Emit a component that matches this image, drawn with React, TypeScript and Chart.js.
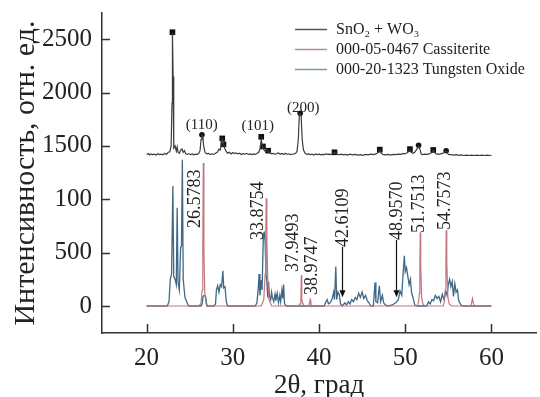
import React, { useEffect, useRef } from "react";
import { Chart, registerables } from "chart.js";

Chart.register(...registerables);

const SERIF = "'Liberation Serif', 'Times New Roman', serif";

// ---- axes ----
const xTickValues = [20, 30, 40, 50, 60];
const yTickValues = [0, 500, 1000, 1500, 2000, 2500];
const yTickLabels = ["0", "500", "100", "1500", "2000", "2500"];

// ---- series labels ----
const seriesNames = ["SnO₂ + WO₃", "000-05-0467 Cassiterite", "000-20-1323 Tungsten Oxide"];

// ---- experimental pattern SnO2 + WO3 (offset trace) ----
const experimental: [number, number][] = [
  [20.0, 1420], [20.2, 1428], [20.35, 1415], [20.5, 1425], [20.7, 1418], [20.9, 1422], [21.1, 1414],
  [21.3, 1426], [21.5, 1418], [21.7, 1422], [21.9, 1416], [22.1, 1430], [22.3, 1420], [22.5, 1440],
  [22.7, 1445], [22.85, 1500], [22.95, 1900], [23.0, 2560], [23.08, 2150], [23.15, 1480], [23.3, 1500],
  [23.45, 1450], [23.55, 1490], [23.65, 1440], [23.8, 1430], [23.95, 1460], [24.1, 1470], [24.25, 1440],
  [24.4, 1455], [24.55, 1425], [24.7, 1420], [24.9, 1428], [25.1, 1418], [25.3, 1424], [25.5, 1416],
  [25.7, 1422], [25.9, 1420], [26.05, 1430], [26.2, 1455], [26.32, 1560], [26.42, 1600], [26.52, 1590],
  [26.62, 1500], [26.78, 1440], [26.95, 1425], [27.2, 1430], [27.4, 1418], [27.6, 1426], [27.8, 1420],
  [28.0, 1432], [28.2, 1440], [28.4, 1470], [28.55, 1460], [28.65, 1520], [28.78, 1560], [28.9, 1520],
  [29.05, 1480], [29.25, 1445], [29.4, 1432], [29.6, 1440], [29.8, 1425], [30.0, 1438], [30.2, 1428],
  [30.4, 1435], [30.6, 1425], [30.8, 1432], [31.0, 1420], [31.2, 1428], [31.4, 1422], [31.6, 1430],
  [31.8, 1420], [32.0, 1425], [32.2, 1418], [32.4, 1424], [32.6, 1420], [32.8, 1428], [33.0, 1440],
  [33.15, 1470], [33.3, 1560], [33.42, 1500], [33.55, 1470], [33.75, 1450], [33.95, 1465], [34.1, 1445],
  [34.3, 1440], [34.5, 1425], [34.7, 1430], [34.9, 1420], [35.1, 1428], [35.3, 1435], [35.5, 1422],
  [35.7, 1430], [35.9, 1420], [36.1, 1432], [36.3, 1420], [36.5, 1426], [36.7, 1418], [36.9, 1422],
  [37.1, 1425], [37.3, 1430], [37.45, 1450], [37.6, 1560], [37.72, 1790], [37.84, 1800], [37.93, 1780],
  [38.05, 1560], [38.2, 1460], [38.4, 1430], [38.6, 1420], [38.8, 1425], [39.0, 1418], [39.2, 1422],
  [39.4, 1415], [39.6, 1424], [39.8, 1418], [40.0, 1422], [40.2, 1416], [40.4, 1420], [40.6, 1418],
  [40.8, 1425], [41.0, 1420], [41.2, 1422], [41.4, 1418], [41.6, 1430], [41.8, 1440], [42.0, 1425],
  [42.2, 1420], [42.4, 1418], [42.6, 1422], [42.8, 1416], [43.0, 1420], [43.3, 1414], [43.6, 1422],
  [43.9, 1416], [44.2, 1420], [44.5, 1414], [44.8, 1418], [45.1, 1412], [45.4, 1420], [45.7, 1416],
  [46.0, 1422], [46.3, 1418], [46.6, 1425], [46.9, 1440], [47.05, 1460], [47.2, 1435], [47.4, 1420],
  [47.7, 1416], [48.0, 1420], [48.3, 1414], [48.6, 1420], [48.9, 1418], [49.2, 1422], [49.5, 1420],
  [49.8, 1430], [50.0, 1425], [50.3, 1440], [50.55, 1465], [50.7, 1440], [50.9, 1430], [51.1, 1440],
  [51.35, 1470], [51.55, 1500], [51.7, 1470], [51.85, 1425], [52.0, 1418], [52.3, 1422], [52.6, 1420],
  [52.9, 1428], [53.1, 1440], [53.25, 1460], [53.4, 1440], [53.6, 1425], [53.9, 1420], [54.2, 1428],
  [54.5, 1435], [54.7, 1450], [54.85, 1445], [55.0, 1420], [55.3, 1418], [55.6, 1414], [55.9, 1418],
  [56.2, 1412], [56.5, 1416], [56.8, 1410], [57.1, 1414], [57.4, 1410], [57.7, 1414], [58.0, 1410],
  [58.3, 1414], [58.6, 1410], [58.9, 1414], [59.2, 1410], [59.5, 1414], [59.8, 1410], [60.0, 1412],
];

// ---- phase markers on experimental trace ----
const sno2Markers: [number, number][] = [
  [26.42, 1605], [37.82, 1805], [51.55, 1505], [54.75, 1455],
];
const wo3Markers: [number, number][] = [
  [23.0, 2565], [28.78, 1570], [28.92, 1515], [33.3, 1585], [33.5, 1495], [34.1, 1455],
  [41.8, 1440], [47.05, 1465], [50.55, 1470], [53.25, 1462],
];

// ---- reference pattern: cassiterite ----
const cassiterite: [number, number][] = [
  [20.0, 0], [26.0, 0], [26.3, 20], [26.45, 150], [26.52, 560], [26.58, 1340], [26.65, 520],
  [26.75, 120], [26.9, 20], [27.2, 0], [33.3, 0], [33.6, 60], [33.75, 300], [33.82, 600],
  [33.88, 1010], [33.95, 650], [34.05, 250], [34.2, 60], [34.5, 0], [37.6, 0], [37.8, 20],
  [37.9, 60], [37.95, 290], [38.0, 60], [38.15, 20], [38.3, 0], [38.8, 0], [38.9, 30],
  [38.97, 60], [39.05, 30], [39.2, 0], [51.4, 0], [51.55, 40], [51.65, 120], [51.7, 380],
  [51.75, 690], [51.8, 380], [51.9, 80], [52.05, 20], [52.3, 0], [54.4, 0], [54.55, 40],
  [54.65, 150], [54.72, 420], [54.76, 710], [54.82, 420], [54.95, 80], [55.1, 20], [55.4, 0],
  [57.6, 0], [57.7, 30], [57.8, 70], [57.9, 30], [58.0, 0], [60.0, 0],
];

// ---- reference pattern: tungsten oxide ----
const tungstenOxide: [number, number][] = [
  [20.0, 0], [22.4, 0], [22.6, 40], [22.75, 250], [22.9, 300], [23.05, 1125], [23.15, 280],
  [23.3, 250], [23.45, 200], [23.55, 920], [23.65, 220], [23.8, 150], [23.95, 550], [24.05, 560],
  [24.15, 1370], [24.25, 250], [24.45, 80], [24.7, 30], [24.9, 0], [26.3, 0], [26.45, 20],
  [26.55, 90], [26.7, 100], [26.85, 90], [27.0, 0], [27.8, 0], [28.0, 20], [28.1, 150],
  [28.25, 190], [28.4, 130], [28.55, 200], [28.7, 180], [28.85, 330], [28.95, 170], [29.1, 180],
  [29.25, 40], [29.4, 0], [32.6, 0], [32.8, 30], [32.95, 160], [33.05, 300], [33.15, 100],
  [33.3, 240], [33.4, 150], [33.55, 680], [33.65, 690], [33.75, 600], [33.85, 300], [33.95, 230],
  [34.05, 80], [34.15, 230], [34.25, 90], [34.4, 60], [34.5, 130], [34.6, 80], [34.75, 40],
  [34.9, 110], [35.0, 50], [35.15, 120], [35.3, 30], [35.45, 100], [35.55, 40], [35.7, 150],
  [35.8, 70], [35.9, 200], [36.0, 20], [36.2, 0], [40.6, 0], [40.8, 40], [40.95, 60],
  [41.1, 20], [41.3, 30], [41.5, 60], [41.7, 130], [41.8, 60], [41.95, 370], [42.05, 60],
  [42.2, 130], [42.35, 110], [42.5, 20], [42.7, 0], [43.0, 30], [43.2, 10], [43.4, 40],
  [43.6, 20], [43.8, 60], [44.0, 40], [44.2, 80], [44.4, 60], [44.6, 120], [44.8, 80],
  [45.0, 130], [45.2, 70], [45.4, 100], [45.6, 50], [45.8, 30], [46.0, 0], [46.3, 0],
  [46.5, 220], [46.6, 40], [46.8, 30], [47.0, 190], [47.15, 40], [47.35, 100], [47.5, 30],
  [47.7, 10], [48.0, 0], [48.5, 10], [48.9, 30], [49.2, 60], [49.4, 140], [49.6, 100],
  [49.75, 300], [49.9, 470], [50.0, 320], [50.15, 360], [50.3, 280], [50.45, 200], [50.6, 250],
  [50.75, 120], [50.9, 80], [51.1, 10], [51.3, 0], [52.5, 0], [52.7, 40], [52.9, 20],
  [53.1, 60], [53.3, 50], [53.5, 100], [53.7, 70], [53.9, 90], [54.1, 40], [54.3, 110],
  [54.5, 60], [54.7, 140], [54.85, 100], [55.0, 200], [55.15, 250], [55.3, 180], [55.45, 230],
  [55.6, 90], [55.75, 210], [55.9, 130], [56.05, 150], [56.2, 50], [56.4, 20], [56.6, 0],
  [60.0, 0],
];

// ---- peak position annotations (text, centre 2θ, bottom intensity) ----
const peakLabels = ["26.5783", "33.8754", "37.9493", "38.9747", "42.6109", "48.9570", "51.7513", "54.7573"];
const peakLabelX = [25.69, 32.99, 37.07, 39.2, 42.76, 49.08, 51.67, 54.66];
const peakLabelY = [731, 619, 319, 103, 553, 619, 684, 712];
// arrows (2θ, from intensity, to intensity)
const arrowX = [42.62, 48.95];
const arrowFrom = [553, 619];
const arrowTo = [82, 82];

// ---- Miller indices ----
const hklLabels = ["(110)", "(101)", "(200)"];
const hklX = [26.4, 32.9, 38.16];
const hklY = [1697, 1688, 1856];

const toXY = (arr: [number, number][]) => arr.map(([x, y]) => ({ x, y }));

const COLORS = {
  exp: "#3c3c3c",
  cass: "#c27780",
  tung: "#3f6886",
  axis: "#333333",
  text: "#222222",
};

const decorPlugin = {
  id: "decor",
  afterDatasetsDraw(chart: any) {
    const ctx = chart.ctx as CanvasRenderingContext2D;
    const xs = chart.scales.x;
    const ys = chart.scales.y;
    const area = chart.chartArea;
    ctx.save();
    // inward ticks
    ctx.strokeStyle = COLORS.axis;
    ctx.lineWidth = 1.5;
    ctx.beginPath();
    xTickValues.forEach((v) => {
      const px = Math.round(xs.getPixelForValue(v)) + 0.5;
      ctx.moveTo(px, area.bottom);
      ctx.lineTo(px, area.bottom - 9);
    });
    yTickValues.forEach((v) => {
      const py = Math.round(ys.getPixelForValue(v)) + 0.5;
      ctx.moveTo(area.left, py);
      ctx.lineTo(area.left + 8, py);
    });
    ctx.stroke();

    // peak labels
    ctx.fillStyle = COLORS.text;
    ctx.font = `18px ${SERIF}`;
    ctx.textAlign = "left";
    ctx.textBaseline = "middle";
    peakLabels.forEach((t, i) => {
      const px = xs.getPixelForValue(peakLabelX[i]);
      const py = ys.getPixelForValue(peakLabelY[i]);
      ctx.save();
      ctx.translate(px, py);
      ctx.rotate(-Math.PI / 2);
      ctx.fillText(t, 0, 0);
      ctx.restore();
    });

    // arrows
    ctx.strokeStyle = "#111";
    ctx.fillStyle = "#111";
    ctx.lineWidth = 1.2;
    arrowX.forEach((v, i) => {
      const px = Math.round(xs.getPixelForValue(v)) + 0.5;
      const y1 = ys.getPixelForValue(arrowFrom[i]);
      const y2 = ys.getPixelForValue(arrowTo[i]);
      ctx.beginPath();
      ctx.moveTo(px, y1);
      ctx.lineTo(px, y2 - 5);
      ctx.stroke();
      ctx.beginPath();
      ctx.moveTo(px - 3, y2 - 7);
      ctx.lineTo(px + 3, y2 - 7);
      ctx.lineTo(px, y2);
      ctx.closePath();
      ctx.fill();
    });

    // Miller indices
    ctx.fillStyle = COLORS.text;
    ctx.font = `15px ${SERIF}`;
    ctx.textAlign = "center";
    ctx.textBaseline = "middle";
    hklLabels.forEach((t, i) => {
      ctx.fillText(t, xs.getPixelForValue(hklX[i]), ys.getPixelForValue(hklY[i]));
    });

    // legend
    const lx0 = 295;
    const lx1 = 327;
    const tx = 336;
    const rows = [29, 49, 69];
    const legendColors = ["#555555", "#b98a90", "#7f98a6"];
    ctx.font = `16px ${SERIF}`;
    ctx.textAlign = "left";
    seriesNames.forEach((name, i) => {
      ctx.strokeStyle = legendColors[i];
      ctx.lineWidth = 1.5;
      ctx.beginPath();
      ctx.moveTo(lx0, rows[i] + 0.5);
      ctx.lineTo(lx1, rows[i] + 0.5);
      ctx.stroke();
      ctx.fillStyle = COLORS.text;
      ctx.fillText(name, tx, rows[i] + 1);
    });
    ctx.restore();
  },
};

export default function App() {
  const ref = useRef<HTMLCanvasElement | null>(null);

  useEffect(() => {
    if (!ref.current) return;
    const chart = new Chart(ref.current, {
      type: "line",
      data: {
        datasets: [
          {
            label: seriesNames[0],
            data: toXY(experimental),
            borderColor: COLORS.exp,
            borderWidth: 1.2,
            pointRadius: 0,
            tension: 0,
          },
          {
            label: seriesNames[1],
            data: toXY(cassiterite),
            borderColor: COLORS.cass,
            borderWidth: 1.2,
            pointRadius: 0,
            tension: 0,
          },
          {
            label: seriesNames[2],
            data: toXY(tungstenOxide),
            borderColor: COLORS.tung,
            borderWidth: 1.3,
            pointRadius: 0,
            tension: 0,
          },
          {
            label: "SnO2 markers",
            data: toXY(sno2Markers),
            showLine: false,
            pointStyle: "circle",
            pointRadius: 2.8,
            pointBackgroundColor: "#111",
            pointBorderColor: "#111",
            borderWidth: 0,
          },
          {
            label: "WO3 markers",
            data: toXY(wo3Markers),
            showLine: false,
            pointStyle: "rect",
            pointRadius: 4,
            pointBackgroundColor: "#111",
            pointBorderColor: "#111",
            borderWidth: 0,
          },
        ],
      },
      options: {
        responsive: false,
        animation: false,
        devicePixelRatio: 1,
        layout: { padding: { top: 13, left: 0, right: 0, bottom: 0 } },
        plugins: { legend: { display: false }, tooltip: { enabled: false } },
        scales: {
          x: {
            type: "linear",
            min: 14.83,
            max: 65.17,
            grid: { display: false, drawTicks: false },
            border: { display: true, color: COLORS.axis, width: 1.5 },
            afterBuildTicks: (s: any) => {
              s.ticks = xTickValues.map((v) => ({ value: v }));
            },
            afterFit: (s: any) => {
              s.height = 64;
              s.paddingLeft = 0;
              s.paddingRight = 0;
            },
            ticks: {
              color: COLORS.text,
              padding: 10,
              maxRotation: 0,
              font: { family: SERIF, size: 25 },
              callback: (v: any) => String(v),
            },
            title: {
              display: true,
              text: "2θ, град",
              color: COLORS.text,
              font: { family: SERIF, size: 27, lineHeight: 0.82 },
              padding: { top: 0, bottom: 0 },
            },
          },
          y: {
            type: "linear",
            min: -253,
            max: 2745,
            grid: { display: false, drawTicks: false },
            border: { display: true, color: COLORS.axis, width: 1.5 },
            afterBuildTicks: (s: any) => {
              s.ticks = yTickValues.map((v) => ({ value: v }));
            },
            afterFit: (s: any) => {
              s.width = 102;
              s.paddingTop = 0;
              s.paddingBottom = 0;
            },
            ticks: {
              color: COLORS.text,
              padding: 10,
              font: { family: SERIF, size: 25 },
              callback: (v: any) => {
                const i = yTickValues.indexOf(Number(v));
                return i >= 0 ? yTickLabels[i] : "";
              },
            },
            title: {
              display: true,
              text: "Интенсивность, отн. ед.",
              color: COLORS.text,
              font: { family: SERIF, size: 30 },
              padding: { top: 8, bottom: 0 },
            },
          },
        },
      },
      plugins: [decorPlugin],
    });
    return () => chart.destroy();
  }, []);

  return (
    <div style={{ position: "fixed", left: 0, top: 0, width: 540, height: 397, background: "#fff" }}>
      <canvas ref={ref} width={540} height={397} style={{ display: "block" }} />
    </div>
  );
}
